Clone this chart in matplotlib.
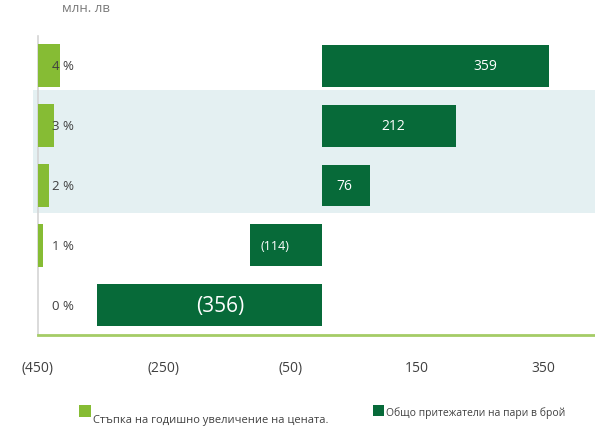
import matplotlib
matplotlib.use("Agg")
import matplotlib.pyplot as plt
from matplotlib.patches import Rectangle
from matplotlib.transforms import blended_transform_factory

plt.rcParams['font.family'] = ['Open Sans', 'DejaVu Sans']

# Data
categories = ["0 %", "1 %", "2 %", "3 %", "4 %"]
price_step = [0, 1, 2, 3, 4]                 # annual price increase step, %
cash_holders = [-356, -114, 76, 212, 359]    # total cash holders, mln BGN
x_ticks = [-450, -250, -50, 150, 350]
legend_labels = ["Стъпка на годишно увеличение на цената.",
                 "Общо притежатели на пари в брой"]
unit_label = "млн. лв"

# Styling
DARK = "#076a39"
LIGHT = "#86bc34"
BAND = "#e4f0f2"
TEXT = "#404040"
label_frac = [0.45, 0.65, 0.46, 0.53, 0.72]  # label position along each bar
label_size = [15, 9, 10, 10, 10]

def fmt(v):
    return f"({abs(v):g})" if v < 0 else f"{v:g}"

fig = plt.figure(figsize=(5.95, 4.27), dpi=100)
ax = fig.add_axes([37.5 / 595, 1 - 336 / 427, 1 - 37.5 / 595, 299 / 427])

y = list(range(len(categories)))

# highlighted rows (2 % and 3 %)
band_tr = blended_transform_factory(ax.transAxes, ax.transData)
ax.add_patch(Rectangle((-0.008, 1.54), 1.1, 3.6 - 1.54, transform=band_tr,
                       facecolor=BAND, edgecolor="none", zorder=0,
                       clip_on=False))

ax.barh(y, cash_holders, height=0.7, color=DARK, zorder=2)
ax.set_xlim(-450, 432)
ax.set_ylim(-0.5, 4.5)

for yi, v, f, s in zip(y, cash_holders, label_frac, label_size):
    ax.text(v * f, yi, fmt(v), color="white", fontsize=s,
            ha="center", va="center", zorder=4)

# secondary scale for the percentage bars
ax2 = ax.twiny()
ax2.barh(y, price_step, height=0.72, color=LIGHT, zorder=2)
ax2.set_xlim(0, 100)
ax2.set_ylim(-0.5, 4.5)
ax2.axis("off")

for yi, c in zip(y, categories):
    ax2.text(4.6, yi, c, color=TEXT, fontsize=9.5, ha="center",
             va="center", zorder=5)

ax.set_xticks(x_ticks)
ax.set_xticklabels([fmt(t) for t in x_ticks])
ax.tick_params(axis="x", length=0, pad=18, labelsize=10, labelcolor=TEXT)
ax.set_yticks([])
for side in ["top", "right"]:
    ax.spines[side].set_visible(False)
ax.spines["left"].set_color("#d4d4d4")
ax.spines["left"].set_linewidth(1.2)
ax.spines["bottom"].set_color("#a5cc66")
ax.spines["bottom"].set_linewidth(2)

fig.text(86 / 595, 1 - 2 / 427, unit_label, color="#7a7a7a", fontsize=9.5,
         ha="center", va="top")

# legend
fig.patches.append(Rectangle((79 / 595, 1 - 418 / 427), 12 / 595, 12 / 427,
                             transform=fig.transFigure, facecolor=LIGHT,
                             edgecolor="none"))
fig.text(93 / 595, 1 - 423 / 427, legend_labels[0], color=TEXT, fontsize=8,
         ha="left", va="baseline")
fig.patches.append(Rectangle((373 / 595, 1 - 417 / 427), 11 / 595, 11 / 427,
                             transform=fig.transFigure, facecolor=DARK,
                             edgecolor="none"))
fig.text(386 / 595, 1 - 416 / 427, legend_labels[1], color=TEXT, fontsize=7.5,
         ha="left", va="baseline")

fig.savefig("out.png", dpi=100)
